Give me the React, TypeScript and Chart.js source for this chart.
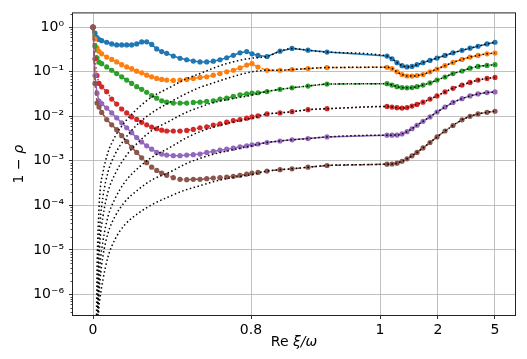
import React, { useEffect, useRef } from 'react';
import { Chart, registerables } from 'chart.js';

Chart.register(...registerables);

// ---- axis definitions ----
// x axis is a warped axis: values below are positions along that axis
const xTickLabels = ['0', '0.8', '1', '2', '5'];
const xTickPos = [0, 0.8, 1.4532, 1.7468, 2.0354];
const xMin = -0.1013;
const xMax = 2.1367;

const yTickValues = [1e-6, 1e-5, 1e-4, 1e-3, 1e-2, 1e-1, 1];
const yTickLabels = ['10⁻⁶', '10⁻⁵', '10⁻⁴', '10⁻³', '10⁻²', '10⁻¹', '10⁰'];
const yMin = 3.47e-7;
const yMax = 2.04;

const xTitle = ['Re ', 'ξ/ω'];
const yTitle = ['1 − ', 'ρ'];

// ---- sampled (marker) series ----
const xGrid = [0, 0.0101, 0.0203, 0.0304, 0.0441, 0.0694, 0.0947, 0.12, 0.1453, 0.1706, 0.1959, 0.2213, 0.2466, 0.2719,
  0.2972, 0.3225, 0.3478, 0.3732, 0.4066, 0.4405, 0.4744, 0.5078, 0.5418, 0.5757, 0.6091, 0.643, 0.677, 0.7104, 0.7443,
  0.7782, 0.8051, 0.8354, 0.881, 0.9468, 1.0076, 1.0886, 1.1848, 1.4886, 1.5139, 1.5392, 1.5646, 1.5899, 1.6152, 1.6405,
  1.6709, 1.7063, 1.7418, 1.7823, 1.8228, 1.8684, 1.9089, 1.9494, 1.9949, 2.0354];

const blue = [1.0, 0.736, 0.586, 0.529, 0.498, 0.459, 0.421, 0.4, 0.4, 0.4, 0.4, 0.421, 0.466, 0.47, 0.41, 0.326, 0.283,
  0.259, 0.225, 0.201, 0.186, 0.174, 0.166, 0.166, 0.173, 0.186, 0.206, 0.234, 0.266, 0.284, 0.253, 0.232, 0.22, 0.29,
  0.334, 0.305, 0.276, 0.225, 0.196, 0.16, 0.137, 0.128, 0.132, 0.144, 0.16, 0.18, 0.203, 0.232, 0.266, 0.302, 0.338,
  0.374, 0.421, 0.459];
const orange = [1.0, 0.543, 0.343, 0.287, 0.253, 0.214, 0.189, 0.166, 0.144, 0.128, 0.118, 0.103, 0.0946, 0.0837, 0.0771,
  0.0707, 0.0672, 0.0649, 0.0639, 0.0649, 0.0672, 0.0707, 0.0744, 0.0771, 0.0837, 0.0912, 0.0995, 0.108, 0.122, 0.141,
  0.152, 0.127, 0.108, 0.108, 0.112, 0.118, 0.124, 0.126, 0.118, 0.0995, 0.0867, 0.0803, 0.0798, 0.0824, 0.0867, 0.0995,
  0.115, 0.137, 0.162, 0.189, 0.214, 0.232, 0.253, 0.262];
const green = [1.0, 0.38, 0.206, 0.164, 0.152, 0.128, 0.108, 0.0912, 0.0771, 0.0649, 0.0548, 0.0463, 0.0404, 0.0347,
  0.0293, 0.0255, 0.0222, 0.0208, 0.0198, 0.0198, 0.0198, 0.0205, 0.0208, 0.0216, 0.0222, 0.0243, 0.0255, 0.0279, 0.0302,
  0.0318, 0.033, 0.0338, 0.0359, 0.0404, 0.0436, 0.0478, 0.0529, 0.054, 0.0503, 0.0463, 0.0441, 0.0436, 0.0441, 0.0463,
  0.0503, 0.0562, 0.0649, 0.0763, 0.0912, 0.104, 0.12, 0.132, 0.139, 0.144];
const red = [1.0, 0.196, 0.0824, 0.0548, 0.0459, 0.0357, 0.0243, 0.0188, 0.0146, 0.0119, 0.0097, 0.0085, 0.00733,
  0.00645, 0.00574, 0.00526, 0.00488, 0.00468, 0.00468, 0.00468, 0.00483, 0.00508, 0.00554, 0.00582, 0.00635, 0.00679,
  0.0074, 0.00803, 0.00845, 0.00908, 0.0097, 0.0102, 0.0113, 0.0119, 0.0127, 0.0141, 0.0148, 0.0167, 0.0161, 0.0156,
  0.0153, 0.0157, 0.017, 0.0185, 0.0208, 0.0243, 0.0287, 0.0352, 0.0425, 0.0503, 0.0577, 0.0649, 0.0707, 0.0744];
const purple = [1.0, 0.0824, 0.033, 0.0219, 0.0193, 0.0153, 0.0119, 0.00922, 0.00714, 0.00554, 0.00429, 0.00333,
  0.00265, 0.00218, 0.00183, 0.00155, 0.00142, 0.00135, 0.00131, 0.00131, 0.00135, 0.00138, 0.00142, 0.00155, 0.00163,
  0.00174, 0.00183, 0.00193, 0.00207, 0.00218, 0.0023, 0.00239, 0.00258, 0.00279, 0.00296, 0.00316, 0.00345, 0.00378,
  0.00378, 0.0038, 0.00402, 0.00452, 0.00526, 0.00629, 0.00771, 0.0097, 0.0125, 0.0161, 0.0205, 0.0249, 0.0287, 0.0318,
  0.0341, 0.0352];
const brown = [1.0, 0.0548, 0.0198, 0.0161, 0.0122, 0.00845, 0.00645, 0.005, 0.00368, 0.00272, 0.002, 0.00155, 0.00117,
  0.000908, 0.000722, 0.00061, 0.000532, 0.000473, 0.000419, 0.000386, 0.000378, 0.000386, 0.000386, 0.000398, 0.000412,
  0.000419, 0.000434, 0.00045, 0.000473, 0.000505, 0.000532, 0.000551, 0.000589, 0.000635, 0.000662, 0.000722, 0.000787,
  0.000841, 0.00085, 0.000885, 0.00098, 0.00111, 0.0013, 0.00155, 0.00195, 0.00258, 0.00345, 0.00468, 0.00622, 0.00832,
  0.01, 0.0113, 0.0123, 0.013];

// ---- asymptotic (black dotted) curves: leading part, then they follow the series from JOIN onward ----
const dotX = [0.0167, 0.0203, 0.0238, 0.0278, 0.0354, 0.0506, 0.0759, 0.1114, 0.162, 0.2278, 0.2972, 0.3899, 0.4658,
  0.5418, 0.6177, 0.6937, 0.8];
const JOIN = 32;
const dotBlue = [1e-7, 3.4e-6, 1.6e-5, 4.9e-5, 2.0e-4, 5.6e-4, 1.55e-3, 3.5e-3, 7.5e-3, 0.0153, 0.0269, 0.0447, 0.0672,
  0.0912, 0.124, 0.16, 0.201];
const dotOrange = [1e-7, 1.6e-7, 1.24e-6, 8.6e-6, 3.96e-5, 1.57e-4, 5.6e-4, 1.4e-3, 3.16e-3, 6.79e-3, 0.0119, 0.0208,
  0.0313, 0.0447, 0.0577, 0.0744, 0.0985];
const dotGreen = [1e-7, 1e-7, 4.5e-7, 3.1e-6, 1.58e-5, 5.65e-5, 2.02e-4, 5.05e-4, 1.2e-3, 2.58e-3, 4.75e-3, 7.91e-3,
  0.0119, 0.0161, 0.0208, 0.0243, 0.0297];
const dotRed = [1e-7, 1e-7, 2.4e-7, 9.6e-7, 4.43e-6, 1.58e-5, 5.65e-5, 1.41e-4, 3.36e-4, 6.86e-4, 1.2e-3, 2.0e-3,
  3.16e-3, 4.52e-3, 5.82e-3, 7.14e-3, 8.99e-3];
const dotPurple = [1e-7, 1e-7, 1e-7, 5.8e-7, 2.06e-6, 7.36e-6, 2.38e-5, 5.65e-5, 1.21e-4, 2.24e-4, 3.72e-4, 5.6e-4,
  8.41e-4, 1.14e-3, 1.44e-3, 1.72e-3, 2.16e-3];
const dotBrown = [1e-7, 1e-7, 1e-7, 3.84e-7, 8.24e-7, 2.17e-6, 7.0e-6, 1.73e-5, 3.71e-5, 6.59e-5, 1.03e-4, 1.61e-4,
  2.2e-4, 2.77e-4, 3.48e-4, 4.12e-4, 4.9e-4];

const seriesList = [
  { values: blue, dot: dotBlue, color: '#1f77b4', dash: [] as number[] },
  { values: orange, dot: dotOrange, color: '#ff7f0e', dash: [5.5, 2.4] },
  { values: green, dot: dotGreen, color: '#2ca02c', dash: [9.6, 2.4, 1.5, 2.4] },
  { values: red, dot: dotRed, color: '#d62728', dash: [1.5, 2.5] },
  { values: purple, dot: dotPurple, color: '#9467bd', dash: [] as number[] },
  { values: brown, dot: dotBrown, color: '#8c564b', dash: [5.5, 2.4] },
];

const FONT = 'DejaVu Sans';

function drawMixed(ctx: CanvasRenderingContext2D, parts: string[], cx: number, cy: number, rot: number) {
  const fonts = [`14px "${FONT}"`, `italic 14px "${FONT}"`];
  let total = 0;
  const widths = parts.map((p, i) => {
    ctx.font = fonts[i % 2];
    const w = ctx.measureText(p).width;
    total += w;
    return w;
  });
  ctx.save();
  ctx.translate(cx, cy);
  ctx.rotate(rot);
  ctx.fillStyle = '#000';
  ctx.textBaseline = 'middle';
  ctx.textAlign = 'left';
  let x = -total / 2;
  parts.forEach((p, i) => {
    ctx.font = fonts[i % 2];
    ctx.fillText(p, x, 0);
    x += widths[i];
  });
  ctx.restore();
}

const framePlugin = {
  id: 'frame',
  afterDatasetsDraw(chart: any) {
    const { ctx, chartArea: a, scales } = chart;
    ctx.save();
    const y = scales.y;
    ctx.strokeStyle = '#000';
    ctx.lineWidth = 0.7;
    ctx.beginPath();
    for (let k = -7; k <= 0; k++) {
      for (let m = 2; m <= 9; m++) {
        const v = m * Math.pow(10, k);
        if (v < y.min || v > y.max) continue;
        const py = Math.round(y.getPixelForValue(v)) + 0.5;
        ctx.moveTo(a.left - 2.5, py);
        ctx.lineTo(a.left, py);
      }
    }
    ctx.stroke();
    ctx.lineWidth = 1;
    ctx.strokeStyle = '#222';
    ctx.strokeRect(a.left - 0.5, a.top - 0.5, a.right - a.left + 1, a.bottom - a.top + 1);
    ctx.restore();
  },
  afterDraw(chart: any) {
    const { ctx, chartArea: a } = chart;
    drawMixed(ctx, xTitle, (a.left + a.right) / 2, 342, 0);
    drawMixed(ctx, yTitle, 19, (a.top + a.bottom) / 2, -Math.PI / 2);
  },
};

export default function App() {
  const ref = useRef<HTMLCanvasElement>(null);

  useEffect(() => {
    const canvas = ref.current;
    if (!canvas) return;

    const dotted = seriesList.map((s) => ({
      data: dotX
        .map((x, i) => ({ x, y: s.dot[i] }))
        .concat(xGrid.slice(JOIN).map((x, i) => ({ x, y: s.values[i + JOIN] }))),
      borderColor: '#000',
      backgroundColor: '#000',
      borderWidth: 1.5,
      borderDash: [1.5, 2.5],
      pointRadius: 0,
      cubicInterpolationMode: 'monotone' as const,
      fill: false,
    }));

    const marked = seriesList
      .slice()
      .reverse()
      .map((s) => ({
        data: xGrid.map((x, i) => ({ x, y: s.values[i] })),
        borderColor: s.color,
        backgroundColor: s.color,
        borderWidth: 1.5,
        borderDash: s.dash,
        pointRadius: 2.6,
        pointBorderWidth: 0,
        pointBackgroundColor: s.color,
        pointHoverRadius: 0,
        tension: 0,
        fill: false,
      }));

    const chart = new Chart(canvas, {
      type: 'line',
      data: { datasets: [...dotted, ...marked] as any },
      plugins: [framePlugin],
      options: {
        animation: false,
        responsive: false,
        devicePixelRatio: 1,
        events: [],
        layout: { padding: { top: 9, right: 12, bottom: 0, left: 0 } },
        plugins: { legend: { display: false }, tooltip: { enabled: false } },
        scales: {
          x: {
            type: 'linear',
            min: xMin,
            max: xMax,
            bounds: 'data',
            afterBuildTicks: (s: any) => {
              s.ticks = xTickPos.map((v) => ({ value: v }));
            },
            afterFit: (s: any) => {
              s.height = 44;
            },
            ticks: {
              autoSkip: false,
              maxRotation: 0,
              padding: 3,
              color: '#000',
              font: { family: FONT, size: 14 },
              callback: (_v: any, i: number) => xTickLabels[i],
            },
            grid: {
              color: '#b0b0b0',
              lineWidth: 0.8,
              drawTicks: true,
              tickLength: 4,
              tickColor: '#000',
              tickWidth: 0.8,
            },
            border: { display: false },
            title: { display: false },
          },
          y: {
            type: 'logarithmic',
            min: yMin,
            max: yMax,
            bounds: 'data',
            afterBuildTicks: (s: any) => {
              s.ticks = yTickValues.map((v) => ({ value: v }));
            },
            afterFit: (s: any) => {
              s.width = 73;
            },
            ticks: {
              autoSkip: false,
              padding: 5,
              color: '#000',
              font: { family: FONT, size: 14 },
              callback: (_v: any, i: number) => yTickLabels[i],
            },
            grid: {
              color: '#b0b0b0',
              lineWidth: 0.8,
              drawTicks: true,
              tickLength: 4,
              tickColor: '#000',
              tickWidth: 0.8,
            },
            border: { display: false },
            title: { display: false },
          },
        },
      },
    });

    return () => chart.destroy();
  }, []);

  return (
    <div style={{ position: 'absolute', left: 0, top: 0, width: 527, height: 359 }}>
      <canvas ref={ref} width={527} height={359} style={{ width: 527, height: 359, display: 'block' }} />
    </div>
  );
}
